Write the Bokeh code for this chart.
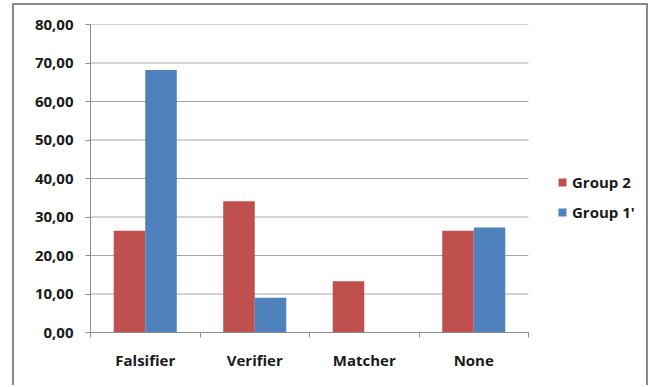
from bokeh.plotting import figure
from bokeh.models import Range1d, FixedTicker, Legend, LegendItem, ColumnDataSource
from bokeh.transform import dodge
from bokeh.embed import file_html
from bokeh.resources import INLINE

# Data
categories = ["Falsifier", "Verifier", "Matcher", "None"]
group2 = [26.4, 34.1, 13.3, 26.4]
group1p = [68.2, 9.0, 0.0, 27.3]
series_names = ["Group 2", "Group 1'"]
y_ticks = [0, 10, 20, 30, 40, 50, 60, 70, 80]
y_tick_labels = ["0,00", "10,00", "20,00", "30,00", "40,00", "50,00", "60,00", "70,00", "80,00"]

RED = "#C0504D"
BLUE = "#4F81BD"
GRID = "#a6a6a6"
AXIS = "#8c8c8c"
FONT = "Open Sans"

n = len(categories)
centers = [i + 0.5 for i in range(n)]
src = ColumnDataSource(dict(x=centers, g2=group2, g1=group1p))
grid_src = ColumnDataSource(dict(y=y_ticks, x0=[0] * len(y_ticks), x1=[n] * len(y_ticks)))

# the frame runs on past the last category so the legend can sit beside the bars
x_end = n * 560 / 438

p = figure(width=636, height=382, output_backend="svg", toolbar_location=None,
           x_range=Range1d(0, x_end), y_range=Range1d(0, 80),
           min_border_left=76, min_border_right=0, min_border_top=19,
           min_border_bottom=55)
p.outline_line_color = None
p.background_fill_color = "white"
p.border_fill_color = "white"
p.styles = {"margin-left": "12px", "margin-top": "3px",
            "border-left": "2px solid #8a8a8a", "border-top": "2px solid #8a8a8a",
            "border-right": "2px solid #8a8a8a"}

# horizontal gridlines over the category area only
p.segment(x0="x0", x1="x1", y0="y", y1="y", source=grid_src,
          line_color=GRID, line_width=1)

bw = 0.288
r2 = p.vbar(x=dodge("x", -bw / 2), top="g2", width=bw, source=src,
            fill_color=RED, line_color=None)
r1 = p.vbar(x=dodge("x", bw / 2), top="g1", width=bw, source=src,
            fill_color=BLUE, line_color=None)

# x axis: labels centred on categories, tick marks on category boundaries
p.xaxis.bounds = (0, n)
p.xaxis.ticker = FixedTicker(ticks=centers, minor_ticks=list(range(n + 1)))
p.xaxis.major_label_overrides = {c: name for c, name in zip(centers, categories)}
p.xaxis.major_tick_line_color = None
p.xaxis.minor_tick_in = 0
p.xaxis.minor_tick_out = 5
p.xaxis.minor_tick_line_color = AXIS
p.xaxis.axis_line_color = AXIS
p.xaxis.major_label_standoff = 11
p.xaxis.major_label_text_font = FONT
p.xaxis.major_label_text_font_style = "bold"
p.xaxis.major_label_text_font_size = "15px"
p.xaxis.major_label_text_color = "#1a1a1a"

# y axis
p.yaxis.ticker = FixedTicker(ticks=y_ticks)
p.yaxis.major_label_overrides = {t: lab for t, lab in zip(y_ticks, y_tick_labels)}
p.yaxis.major_tick_in = 0
p.yaxis.major_tick_out = 5
p.yaxis.major_tick_line_color = AXIS
p.yaxis.minor_tick_line_color = None
p.yaxis.axis_line_color = AXIS
p.yaxis.major_label_standoff = 12
p.yaxis.major_label_text_font = FONT
p.yaxis.major_label_text_font_style = "bold"
p.yaxis.major_label_text_font_size = "15px"
p.yaxis.major_label_text_color = "#1a1a1a"

p.xgrid.grid_line_color = None
p.ygrid.grid_line_color = None

legend = Legend(items=[LegendItem(label=series_names[0], renderers=[r2]),
                       LegendItem(label=series_names[1], renderers=[r1])],
                location=(467, 110), orientation="vertical",
                glyph_width=10, glyph_height=10, label_height=20, spacing=10,
                label_standoff=5, padding=0, margin=0,
                border_line_color=None, background_fill_alpha=0,
                label_text_font=FONT, label_text_font_style="bold",
                label_text_font_size="15px", label_text_color="#1a1a1a")
p.add_layout(legend, "center")

open("out.html", "w").write(file_html(p, INLINE))
